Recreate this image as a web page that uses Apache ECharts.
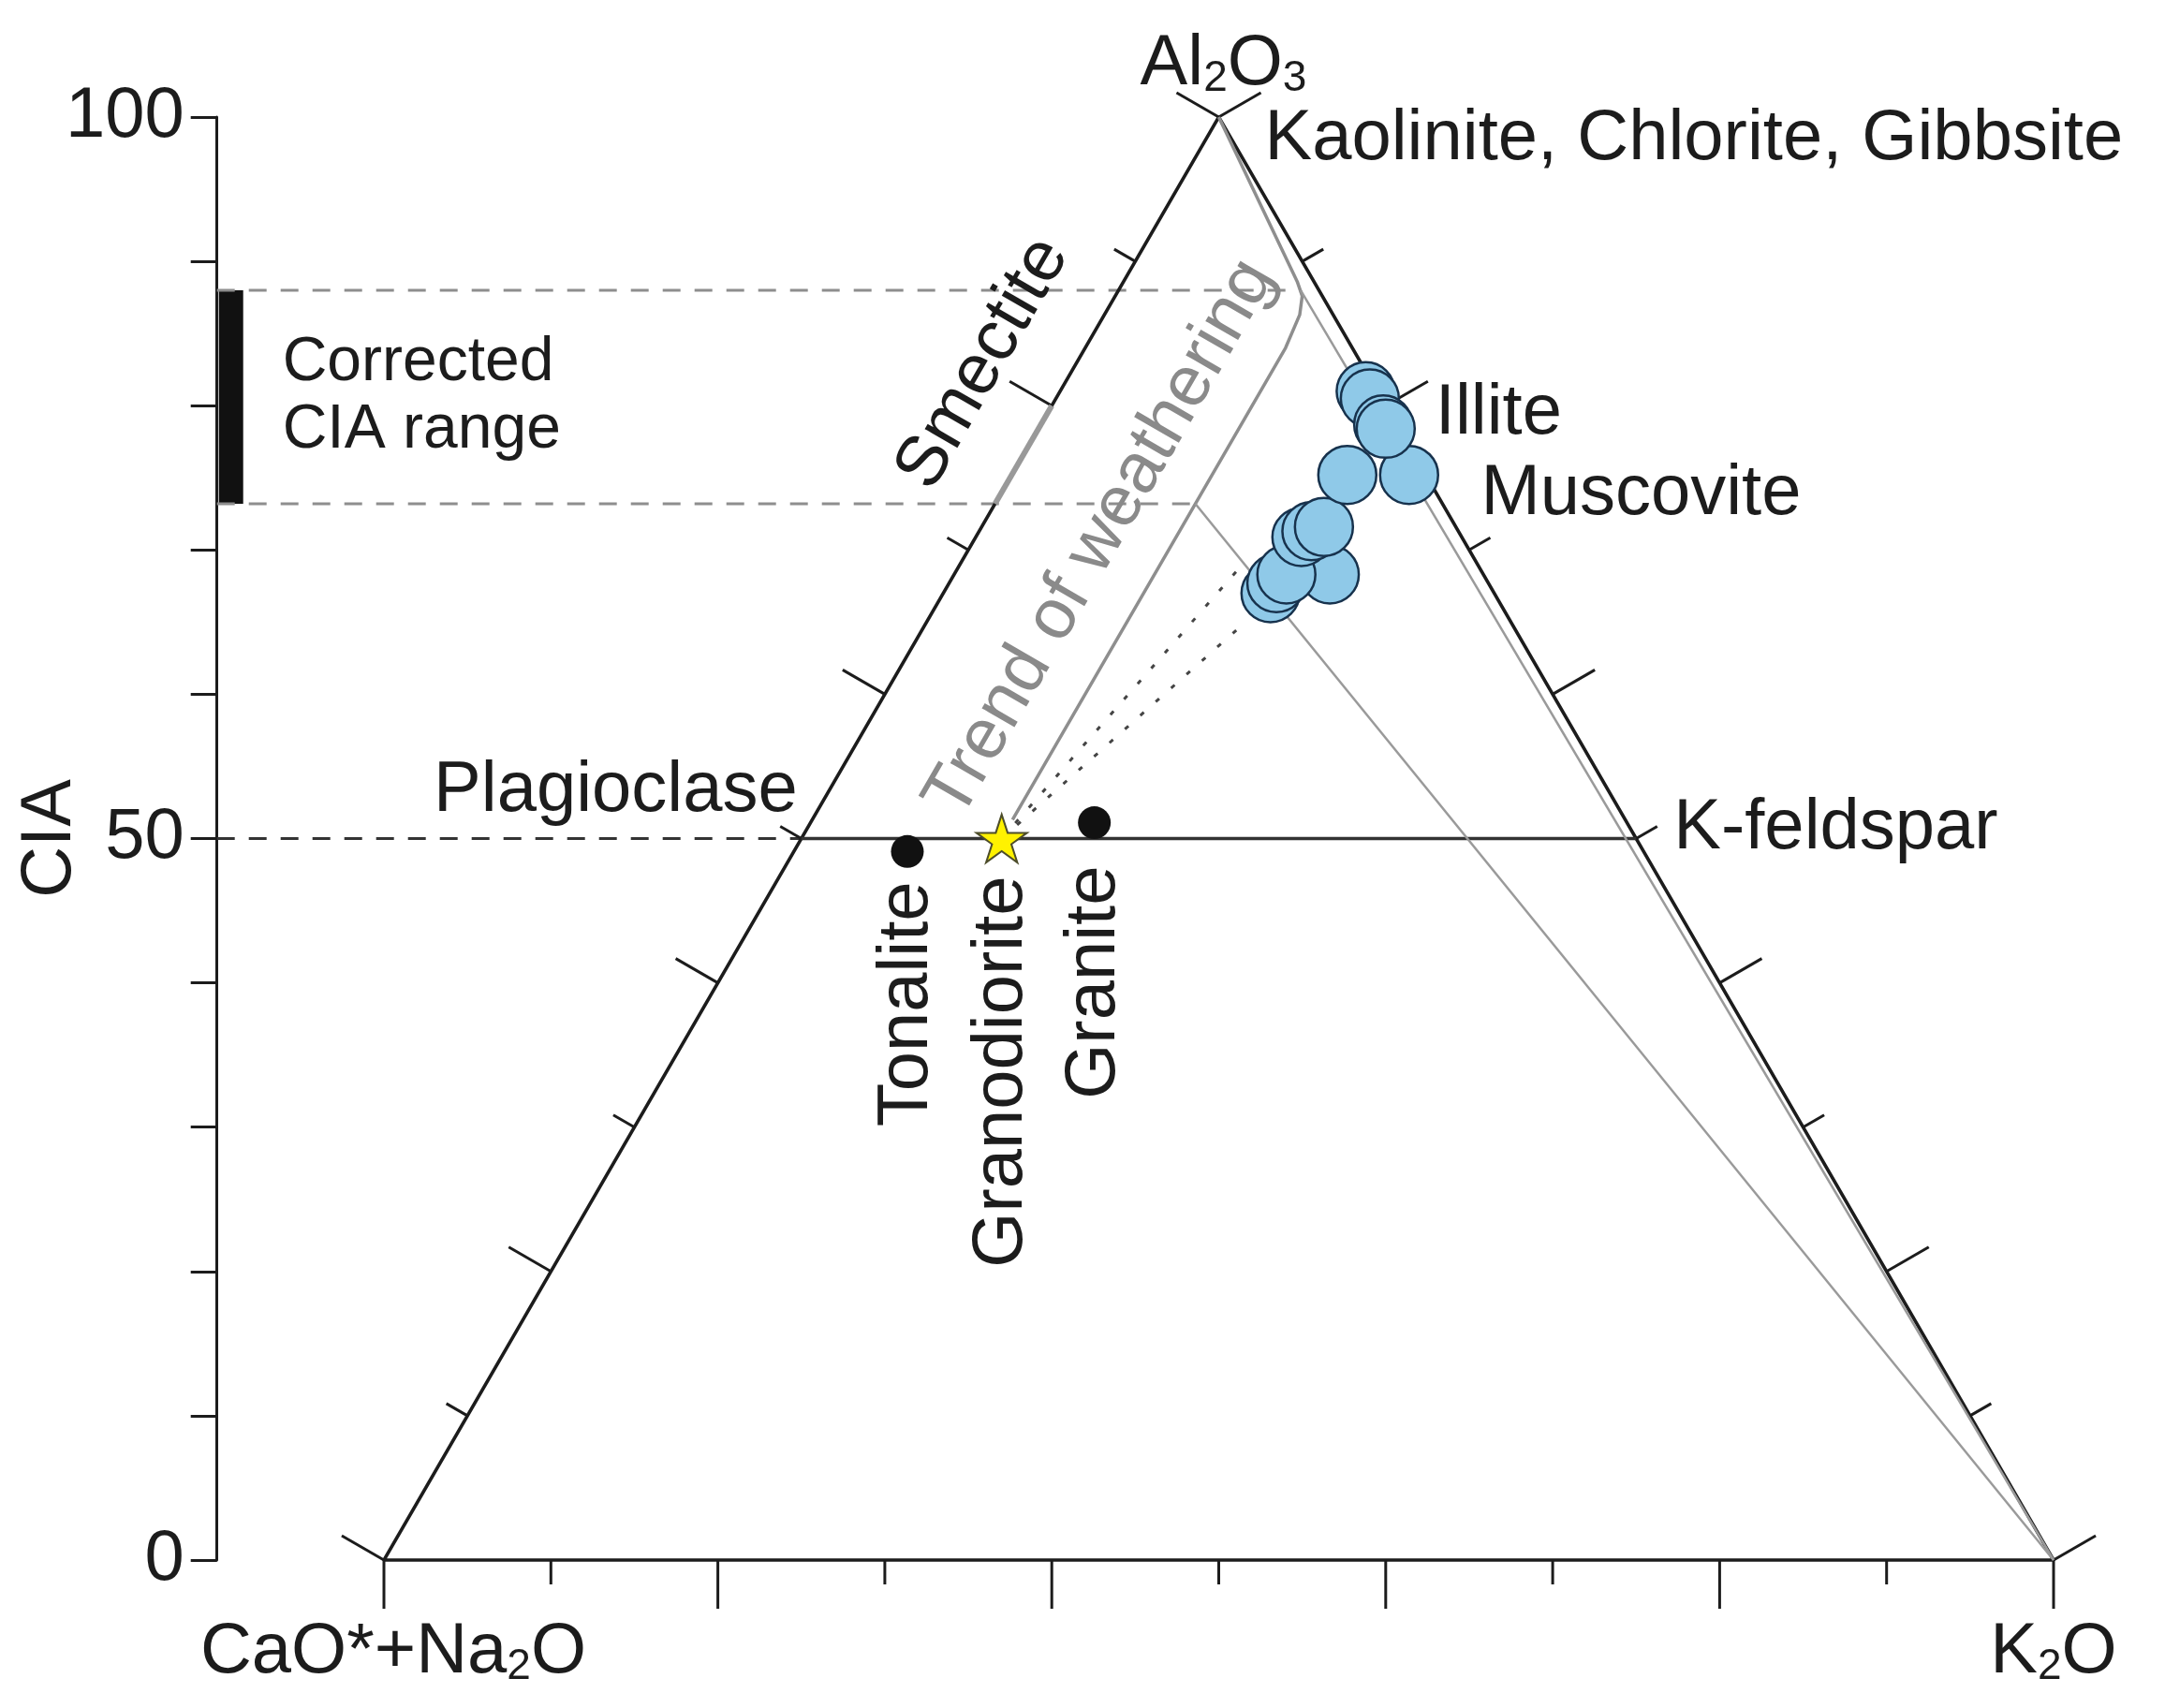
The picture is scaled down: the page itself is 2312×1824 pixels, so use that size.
<!DOCTYPE html>
<html>
<head>
<meta charset="utf-8">
<script src="https://cdn.jsdelivr.net/npm/echarts@6/dist/echarts.min.js"></script>
<style>
  html, body { margin: 0; padding: 0; background: #fff; }
  #chart { width: 2312px; height: 1824px; }
</style>
</head>
<body>
<div id="chart"></div>
<script>
"use strict"

// A-CN-K compositions (%): only Al2O3 (A) and K2O (K) kept, CN = 100 - A - K
const sideSteps = [0, 10, 20, 30, 40, 50, 60, 70, 80, 90, 100]
const ciaLabels = [0, 50, 100]
const ciaRange = [73.2, 88.0]

const sampleA = [67.0, 67.7, 68.3, 68.3, 70.9, 71.3, 71.6, 75.2, 75.2, 81.0, 80.5, 78.7, 78.4]
const sampleK = [19.6, 19.6, 22.5, 19.9, 19.5, 19.9, 20.5, 20.1, 23.8, 18.3, 18.8, 20.5, 20.8]

const rockNames = ["Tonalite", "Granodiorite", "Granite"]
const rockA = [49.1, 50.0, 51.1]
const rockK = [6.8, 12.0, 17.0]

const mineralNames = ["Kaolinite, Chlorite, Gibbsite", "Illite", "Muscovite", "K-feldspar", "Plagioclase"]
const mineralA = [100, 80, 75, 50, 50]
const mineralK = [0, 20, 25, 50, 0]
const smectiteA = [73.2, 80.0]

// weathering trend from granodiorite up to the A-K join, then to Al2O3
const trendA = [51.3, 84.0, 86.3, 87.6, 88.6, 100]
const trendK = [12.0, 12.0, 11.7, 11.2, 10.4, 0]
// lines running from the trend down to K2O
const toKA = [88.0, 73.2]
const toKK = [10.9, 12.0]
// dotted lines from granodiorite to the samples
const mixEndA = [68.5, 65.0]
const mixEndK = [16.8, 19.1]

const xy = (a, k) => [k + a / 2, a]
const X_MIN = -10
const FONT = '"Liberation Sans", Arial, Helvetica, sans-serif'
const FS = 76
const INK = "#1c1c1c"
const GRAY = "#8e8e8e"
const STAR = "path://M50,0 L61.2,34.5 L97.6,34.5 L68.2,55.9 L79.4,90.5 L50,69.1 L20.6,90.5 L31.8,55.9 L2.4,34.5 L38.8,34.5 Z"

const seg = (points, lineStyle, z) => ({
  type: "line",
  data: points,
  symbol: "none",
  silent: true,
  clip: false,
  lineStyle: lineStyle,
  z: z || 3,
})

const tickDir = [[0, 1], [-0.866, -0.5], [0.866, -0.5]]
const tickData = []
sideSteps.forEach((s) => {
  const isLong = s % 20 === 0 ? 1 : 0
  tickData.push([...xy(0, s), 0, isLong])
  tickData.push([...xy(s, 0), 1, isLong])
  tickData.push([...xy(s, 100 - s), 2, isLong])
})

const vertices = [xy(0, 0), xy(0, 100), xy(100, 0)]

const series = [
  {
    type: "custom",
    data: [[X_MIN, ciaRange[0], ciaRange[1]]],
    encode: { x: 0, y: [1, 2] },
    silent: true,
    clip: false,
    z: 2,
    renderItem: (params, api) => {
      const lo = api.coord([api.value(0), api.value(1)])
      const hi = api.coord([api.value(0), api.value(2)])
      return {
        type: "rect",
        shape: { x: lo[0] + 2, y: hi[1], width: 26, height: lo[1] - hi[1] },
        style: { fill: "#111" },
      }
    },
  },
  seg([[X_MIN, 50], xy(50, 0)], { color: "#333", width: 3, type: [19, 15] }, 2),
  seg([[X_MIN, ciaRange[1]], xy(toKA[0], toKK[0])], { color: GRAY, width: 3, type: [19, 15] }, 2),
  seg([[X_MIN, ciaRange[0]], xy(toKA[1], toKK[1])], { color: GRAY, width: 3, type: [19, 15] }, 2),
  seg([...vertices, vertices[0]], { color: INK, width: 3.5 }, 3),
  {
    type: "custom",
    data: tickData,
    encode: { x: 0, y: 1 },
    silent: true,
    clip: false,
    z: 3,
    renderItem: (params, api) => {
      const p = api.coord([api.value(0), api.value(1)])
      const d = tickDir[api.value(2)]
      const len = api.value(3) ? 52 : 26
      return {
        type: "line",
        shape: { x1: p[0], y1: p[1], x2: p[0] + d[0] * len, y2: p[1] + d[1] * len },
        style: { stroke: INK, lineWidth: 3 },
      }
    },
  },
  seg([xy(50, 0), xy(50, 50)], { color: "#333", width: 3.5 }, 3),
  seg(smectiteA.map((a) => xy(a, 0)), { color: "#999", width: 6 }, 4),
  seg(trendA.map((a, i) => xy(a, trendK[i])), { color: GRAY, width: 3.5, join: "round" }, 3),
  seg([xy(toKA[0], toKK[0]), xy(0, 100)], { color: "#9a9a9a", width: 2.5 }, 3),
  seg([xy(toKA[1], toKK[1]), xy(0, 100)], { color: "#9a9a9a", width: 2.5 }, 3),
  ...mixEndA.map((a, i) =>
    seg([xy(rockA[1], rockK[1]), xy(a, mixEndK[i])], { color: "#444", width: 3, type: [5, 17] }, 3)
  ),
  {
    type: "scatter",
    data: sampleA.map((a, i) => xy(a, sampleK[i])),
    symbolSize: 62,
    silent: true,
    itemStyle: { color: "#8fc9e8", borderColor: "#17324d", borderWidth: 2.5, opacity: 1 },
    z: 5,
  },
  {
    type: "scatter",
    silent: true,
    z: 6,
    data: rockA.map((a, i) => {
      const isStar = rockNames[i] === "Granodiorite"
      return {
        name: rockNames[i],
        value: xy(a, rockK[i]),
        symbol: isStar ? STAR : "circle",
        symbolSize: isStar ? 54 : 35,
        symbolKeepAspect: true,
        itemStyle: isStar
          ? { color: "#fff200", borderColor: "#4d4d2a", borderWidth: 2, opacity: 1 }
          : { color: "#111", opacity: 1 },
      }
    }),
  },
]

const option = {
  animation: false,
  backgroundColor: "#fff",
  grid: {
    left: 231.7,
    top: 125,
    width: 2050.45,
    height: 1541,
    containLabel: false,
    outerBoundsMode: "none",
  },
  xAxis: { type: "value", min: X_MIN, max: 105, show: false },
  yAxis: {
    type: "value",
    min: 0,
    max: 100,
    interval: 10,
    name: "CIA",
    nameLocation: "middle",
    nameGap: 140,
    nameMoveOverlap: false,
    nameTextStyle: { fontSize: FS, color: INK, fontFamily: FONT },
    axisLine: { show: true, onZero: false, lineStyle: { color: INK, width: 3 } },
    axisTick: { show: true, length: 28, lineStyle: { color: INK, width: 3 } },
    splitLine: { show: false },
    axisLabel: {
      margin: 35,
      fontSize: FS,
      color: INK,
      fontFamily: FONT,
      formatter: (v) => (ciaLabels.includes(v) ? String(v) : ""),
    },
  },
  series: series,
}

const chart = echarts.init(document.getElementById("chart"), null, { renderer: "canvas" })
chart.setOption(option)

const px = (p) => chart.convertToPixel({ gridIndex: 0 }, p)

const label = (anchor, str, opt) => ({
  type: "text",
  silent: true,
  x: anchor[0] + (opt.dx || 0),
  y: anchor[1] + (opt.dy || 0),
  rotation: ((opt.rot || 0) * Math.PI) / 180,
  z: 10,
  style: Object.assign(
    {
      text: str,
      fill: INK,
      fontSize: FS,
      fontFamily: FONT,
      align: "left",
      verticalAlign: "middle",
    },
    opt.style || {}
  ),
})

const rich = {
  n: { fontSize: FS, lineHeight: 110, verticalAlign: "bottom", fontFamily: FONT, color: INK },
  s: { fontSize: 46, lineHeight: 20, verticalAlign: "bottom", fontFamily: FONT, color: INK },
}

// offsets of mineral names from their compositions
const mineralLayout = [
  { dx: 49, dy: 24 },
  { dx: 53, dy: 9 },
  { dx: 57, dy: 18 },
  { dx: 40, dy: -10 },
  { dx: -4, dy: -50, style: { align: "right" } },
]
const rockGap = [32, 40, 46]

const elements = []
mineralNames.forEach((n, i) => {
  elements.push(label(px(xy(mineralA[i], mineralK[i])), n, mineralLayout[i]))
})
elements.push(
  label(px(xy(smectiteA[1], 0)), "Smectite", {
    dx: -73, dy: -45, rot: 60, style: { align: "center" },
  })
)
elements.push(
  label(px(xy(68.7, trendK[0])), "Trend of weathering", {
    dx: -61, dy: -32, rot: 60, style: { align: "center", fill: "#8a8a8a" },
  })
)
rockNames.forEach((n, i) => {
  elements.push(
    label(px(xy(rockA[i], rockK[i])), n, { dy: rockGap[i], rot: 90, style: { align: "right" } })
  )
})
elements.push(
  label(px([X_MIN, (ciaRange[0] + ciaRange[1]) / 2]), "Corrected\nCIA range", {
    dx: 70, style: { fontSize: 66, lineHeight: 72 },
  })
)
elements.push(
  label(px(xy(100, 0)), "{n|Al}{s|2}{n|O}{s|3}", {
    dx: 5, dy: -73, style: { align: "center", rich: rich },
  })
)
elements.push(
  label(px(xy(0, 0)), "{n|CaO*+Na}{s|2}{n|O}", {
    dx: 10, dy: 82, style: { align: "center", rich: rich },
  })
)
elements.push(
  label(px(xy(0, 100)), "{n|K}{s|2}{n|O}", {
    dx: 0, dy: 82, style: { align: "center", rich: rich },
  })
)

chart.setOption({ graphic: { elements: elements } })
</script>
</body>
</html>
